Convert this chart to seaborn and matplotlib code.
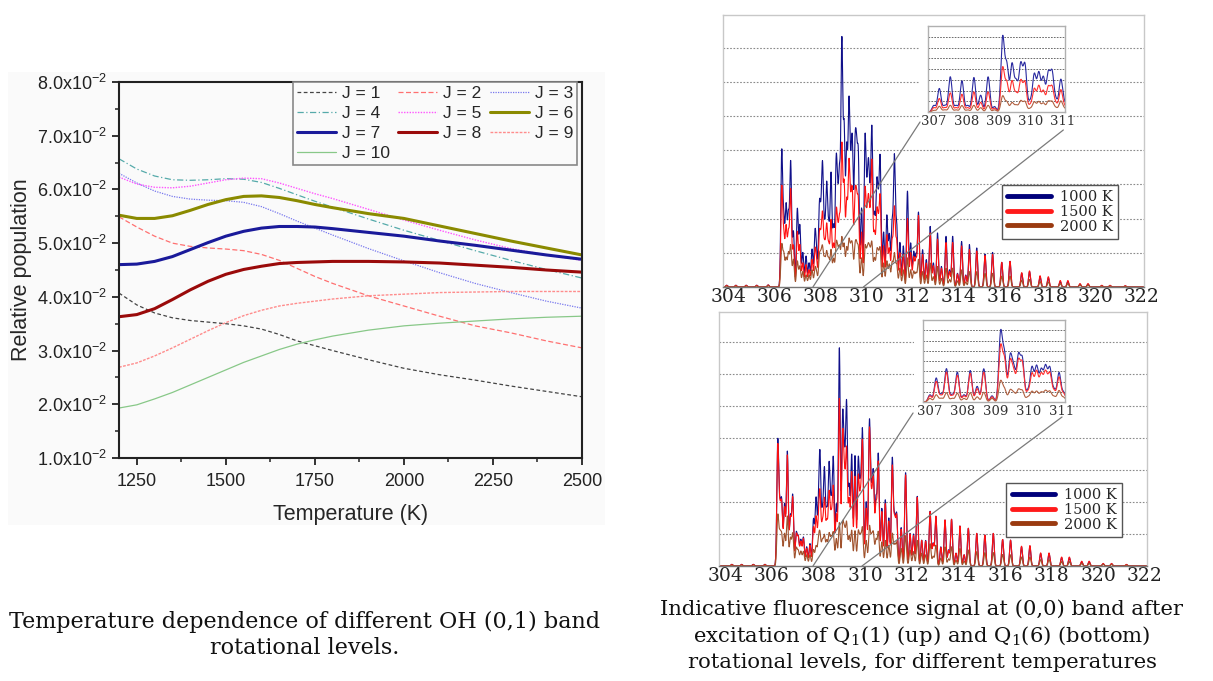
import numpy as np
import matplotlib
matplotlib.use("Agg")
import matplotlib.pyplot as plt
import seaborn as sns
from matplotlib.patches import Rectangle, ConnectionPatch
from matplotlib.lines import Line2D
from matplotlib.ticker import MultipleLocator, FixedLocator, FuncFormatter

# ---------------- data: left chart ----------------
temperature_K = [1200, 1250, 1300, 1350, 1400, 1450, 1500, 1550, 1600, 1650, 1700, 1750, 1800,
                 1900, 2000, 2100, 2200, 2300, 2400, 2500]
pop_J1 = [0.0407, 0.0385, 0.0370, 0.0361, 0.0356, 0.0353, 0.0350, 0.0346, 0.0340, 0.0330, 0.0318, 0.0309, 0.0300,
          0.0283, 0.0267, 0.0255, 0.0245, 0.0234, 0.0224, 0.0214]
pop_J2 = [0.0549, 0.0530, 0.0513, 0.0500, 0.0494, 0.0491, 0.0489, 0.0486, 0.0479, 0.0468, 0.0453, 0.0438, 0.0425,
          0.0402, 0.0383, 0.0364, 0.0346, 0.0333, 0.0318, 0.0305]
pop_J3 = [0.0630, 0.0612, 0.0597, 0.0587, 0.0582, 0.0580, 0.0579, 0.0576, 0.0568, 0.0555, 0.0541, 0.0528, 0.0515,
          0.0490, 0.0467, 0.0445, 0.0425, 0.0408, 0.0392, 0.0379]
pop_J4 = [0.0657, 0.0638, 0.0625, 0.0618, 0.0617, 0.0618, 0.0620, 0.0619, 0.0613, 0.0602, 0.0590, 0.0578, 0.0567,
          0.0545, 0.0524, 0.0505, 0.0486, 0.0468, 0.0451, 0.0435]
pop_J5 = [0.0623, 0.0610, 0.0604, 0.0603, 0.0606, 0.0612, 0.0618, 0.0621, 0.0620, 0.0612, 0.0602, 0.0592, 0.0583,
          0.0563, 0.0543, 0.0524, 0.0506, 0.0490, 0.0478, 0.0468]
pop_J6 = [0.0552, 0.0546, 0.0546, 0.0551, 0.0561, 0.0572, 0.0581, 0.0587, 0.0588, 0.0585, 0.0579, 0.0572, 0.0566,
          0.0555, 0.0546, 0.0532, 0.0518, 0.0504, 0.0491, 0.0478]
pop_J7 = [0.0460, 0.0461, 0.0466, 0.0475, 0.0488, 0.0501, 0.0513, 0.0522, 0.0528, 0.0531, 0.0531, 0.0530, 0.0527,
          0.0520, 0.0513, 0.0504, 0.0496, 0.0487, 0.0478, 0.0470]
pop_J8 = [0.0363, 0.0367, 0.0378, 0.0395, 0.0413, 0.0429, 0.0442, 0.0451, 0.0457, 0.0462, 0.0464, 0.0465, 0.0466,
          0.0466, 0.0465, 0.0463, 0.0459, 0.0455, 0.0450, 0.0446]
pop_J9 = [0.0269, 0.0277, 0.0290, 0.0305, 0.0321, 0.0337, 0.0352, 0.0365, 0.0375, 0.0383, 0.0388, 0.0392, 0.0396,
          0.0402, 0.0405, 0.0408, 0.0409, 0.0410, 0.0410, 0.0410]
pop_J10 = [0.0193, 0.0199, 0.0210, 0.0222, 0.0236, 0.0250, 0.0264, 0.0278, 0.0290, 0.0302, 0.0312, 0.0320, 0.0327,
           0.0338, 0.0346, 0.0351, 0.0355, 0.0359, 0.0362, 0.0364]
level_labels = ["J = 1", "J = 2", "J = 3", "J = 4", "J = 5", "J = 6", "J = 7", "J = 8", "J = 9", "J = 10"]

# ---------------- data: spectra (line positions nm, peak heights) ----------------
top_lines_nm = [303.90, 304.30, 304.75, 305.21, 305.71, 306.30, 306.49, 306.69, 306.98, 307.09,
                307.36, 307.75, 307.82, 307.94, 308.08, 308.26, 308.45, 308.67, 308.82, 308.92,
                309.02, 309.13, 309.23, 309.38, 309.49, 309.56, 309.64, 309.93, 310.08, 310.23,
                310.44, 310.59, 310.88, 311.21, 311.31, 311.78, 311.92, 312.26, 312.44, 312.77,
                313.09, 313.46, 313.75, 314.14, 314.48, 314.80, 315.16, 315.49, 315.89, 316.25,
                316.76, 317.10, 317.56, 317.92, 318.44, 318.77, 319.30, 319.65, 320.25, 320.61,
                321.27,
                306.39, 306.59, 306.81, 307.22, 307.49, 307.62, 308.01, 308.17, 308.35, 308.56,
                308.74, 309.31, 309.78, 310.01, 310.15, 310.34, 310.51, 310.74, 310.99, 311.11,
                311.45, 311.60, 312.05, 312.15, 312.60, 312.91, 313.26, 313.61, 313.96, 314.32]
top_1000K = [0.05, 0.05, 0.05, 0.05, 0.06, 3.88, 2.30, 3.59, 2.26, 1.77,
             0.90, 1.50, 0.80, 2.17, 3.25, 2.85, 3.25, 3.34, 3.05, 6.99,
             4.47, 3.90, 5.06, 3.74, 3.49, 3.25, 3.54, 4.18, 2.95, 4.42,
             2.66, 3.59, 2.07, 3.74, 1.77, 2.80, 1.28, 2.17, 1.09, 1.77,
             1.58, 1.48, 1.48, 1.33, 1.24, 1.14, 0.96, 1.01, 0.72, 0.75,
             0.40, 0.45, 0.30, 0.27, 0.16, 0.16, 0.08, 0.08, 0.04, 0.04,
             0.03,
             1.80, 2.00, 1.60, 1.00, 0.70, 1.10, 1.40, 1.50, 1.60, 1.70,
             2.00, 2.50, 2.30, 2.00, 1.80, 2.00, 1.80, 1.60, 1.50, 1.80,
             1.30, 1.20, 1.00, 0.90, 0.80, 0.70, 0.60, 0.50, 0.40, 0.35]
top_1500K = [0.05, 0.05, 0.05, 0.05, 0.06, 2.85, 1.70, 2.80, 1.60, 1.20,
             0.65, 1.00, 0.60, 1.40, 1.90, 1.70, 1.90, 1.95, 1.80, 4.03,
             2.90, 2.40, 3.40, 2.40, 2.20, 2.10, 2.30, 2.70, 2.10, 3.50,
             1.90, 2.50, 1.50, 2.26, 1.30, 2.00, 1.00, 2.07, 0.95, 1.58,
             1.40, 1.30, 1.30, 1.20, 1.10, 1.05, 0.92, 0.95, 0.72, 0.75,
             0.42, 0.47, 0.33, 0.30, 0.19, 0.19, 0.10, 0.10, 0.05, 0.05,
             0.04,
             1.40, 1.50, 1.20, 0.70, 0.50, 0.80, 1.00, 1.10, 1.10, 1.20,
             1.30, 1.80, 1.60, 1.50, 1.40, 1.50, 1.40, 1.20, 1.10, 1.30,
             1.00, 0.95, 0.85, 0.80, 0.70, 0.62, 0.55, 0.45, 0.38, 0.33]
top_2000K = [0.03, 0.03, 0.03, 0.03, 0.04, 1.19, 0.80, 1.19, 0.75, 0.60,
             0.35, 0.50, 0.35, 0.80, 1.00, 0.95, 1.05, 1.10, 1.05, 1.38,
             1.20, 1.10, 1.25, 1.05, 1.00, 1.00, 1.05, 1.10, 0.95, 1.20,
             0.90, 1.05, 0.75, 0.95, 0.65, 0.85, 0.50, 0.80, 0.45, 0.70,
             0.60, 0.55, 0.55, 0.50, 0.45, 0.45, 0.40, 0.40, 0.32, 0.32,
             0.20, 0.22, 0.16, 0.15, 0.10, 0.10, 0.06, 0.06, 0.03, 0.03,
             0.02,
             0.90, 0.95, 0.80, 0.45, 0.35, 0.50, 0.70, 0.75, 0.75, 0.80,
             0.85, 0.90, 0.85, 0.80, 0.80, 0.80, 0.75, 0.70, 0.65, 0.70,
             0.55, 0.50, 0.45, 0.40, 0.35, 0.30, 0.25, 0.22, 0.18, 0.15]

bottom_lines_nm = [304.29, 304.71, 305.21, 305.71, 306.26, 306.43, 306.67, 306.90, 307.14, 307.36,
                   307.64, 307.79, 307.90, 308.07, 308.26, 308.46, 308.64, 308.90, 309.04, 309.21,
                   309.43, 309.57, 309.71, 309.89, 310.19, 310.36, 310.57, 310.87, 311.17, 311.36,
                   311.74, 311.93, 312.24, 312.43, 312.79, 313.04, 313.43, 313.71, 314.07, 314.43,
                   314.79, 315.14, 315.50, 315.90, 316.24, 316.71, 317.07, 317.53, 317.89, 318.43,
                   318.76, 319.29, 319.61, 320.21, 320.57, 321.21,
                   306.35, 306.55, 306.80, 307.05, 307.25, 307.50, 308.00, 308.17, 308.36, 308.55,
                   308.77, 309.12, 309.32, 309.80, 310.05, 310.28, 310.47, 310.72, 311.02, 311.27,
                   311.55, 312.08, 312.60, 312.92, 313.25, 313.58, 313.90, 314.25]
bottom_1000K = [0.05, 0.05, 0.05, 0.05, 3.86, 1.86, 3.57, 2.18, 0.86, 0.89,
                0.70, 1.44, 2.07, 3.25, 2.92, 3.07, 3.28, 6.81, 4.44, 4.92,
                3.44, 3.44, 3.23, 4.13, 4.44, 2.70, 3.44, 2.07, 3.34, 1.55,
                2.92, 1.02, 2.18, 0.81, 1.71, 1.55, 1.44, 1.46, 1.25, 1.18,
                1.02, 0.97, 1.02, 0.83, 0.81, 0.60, 0.62, 0.39, 0.39, 0.26,
                0.26, 0.13, 0.13, 0.07, 0.07, 0.04,
                1.60, 1.90, 1.50, 1.00, 0.80, 0.60, 1.40, 1.50, 1.60, 1.70,
                1.90, 2.80, 2.40, 2.20, 2.00, 1.90, 2.00, 1.80, 1.50, 1.40,
                1.20, 1.00, 0.80, 0.70, 0.60, 0.50, 0.40, 0.35]
bottom_1500K = [0.05, 0.05, 0.05, 0.05, 3.70, 1.80, 3.45, 2.10, 0.85, 0.85,
                0.65, 1.20, 1.50, 2.10, 2.00, 2.20, 2.40, 5.23, 3.90, 3.50,
                2.90, 2.80, 2.70, 3.80, 4.20, 2.50, 3.20, 1.95, 3.10, 1.50,
                2.85, 1.00, 2.15, 0.80, 1.70, 1.55, 1.44, 1.46, 1.25, 1.18,
                1.02, 0.97, 1.02, 0.83, 0.81, 0.62, 0.64, 0.41, 0.41, 0.28,
                0.28, 0.15, 0.15, 0.08, 0.08, 0.05,
                1.55, 1.80, 1.45, 0.95, 0.75, 0.55, 1.10, 1.20, 1.30, 1.40,
                1.60, 2.40, 2.00, 1.90, 1.80, 1.75, 1.85, 1.70, 1.40, 1.35,
                1.15, 0.95, 0.78, 0.68, 0.58, 0.48, 0.40, 0.35]
bottom_2000K = [0.03, 0.03, 0.03, 0.03, 1.55, 0.90, 1.55, 1.00, 0.45, 0.45,
                0.35, 0.50, 0.60, 0.90, 0.90, 0.95, 1.00, 1.35, 1.25, 1.30,
                1.10, 1.10, 1.05, 1.15, 1.20, 0.95, 1.05, 0.80, 1.00, 0.70,
                0.95, 0.50, 0.80, 0.40, 0.70, 0.65, 0.60, 0.60, 0.55, 0.50,
                0.45, 0.42, 0.42, 0.36, 0.35, 0.28, 0.28, 0.20, 0.20, 0.14,
                0.14, 0.08, 0.08, 0.05, 0.05, 0.03,
                0.90, 1.00, 0.85, 0.55, 0.45, 0.35, 0.70, 0.75, 0.75, 0.80,
                0.85, 1.00, 0.90, 0.85, 0.80, 0.80, 0.80, 0.75, 0.65, 0.60,
                0.55, 0.45, 0.35, 0.30, 0.25, 0.22, 0.18, 0.15]

inset_top_lines_nm = [307.17, 307.51, 307.87, 308.24, 308.45, 308.68, 309.13, 309.26, 309.42, 309.55,
                      309.69, 309.82, 310.11, 310.25, 310.39, 310.54, 310.66, 310.93,
                      307.00, 307.34, 307.69, 308.05, 308.88, 309.98, 310.78, 311.05]
inset_top_1000K = [2.18, 3.27, 2.90, 3.21, 1.56, 3.27, 6.85, 4.20, 4.36, 2.65,
                   4.30, 4.30, 3.43, 3.52, 3.12, 3.43, 3.52, 2.96,
                   0.60, 0.60, 0.60, 0.60, 0.50, 0.90, 1.00, 0.80]
inset_top_1500K = [1.25, 1.78, 1.65, 1.87, 0.90, 1.87, 4.05, 2.60, 2.80, 1.60,
                   2.80, 2.70, 2.09, 2.34, 1.90, 2.18, 2.20, 2.02,
                   0.40, 0.40, 0.40, 0.40, 0.35, 0.60, 0.70, 0.50]
inset_top_2000K = [0.53, 0.62, 0.60, 0.62, 0.40, 0.62, 1.46, 0.90, 0.84, 0.60,
                   1.00, 0.95, 0.90, 0.93, 0.80, 0.93, 0.90, 1.00,
                   0.15, 0.20, 0.20, 0.20, 0.20, 0.30, 0.35, 0.30]

inset_bottom_lines_nm = [307.19, 307.50, 307.83, 308.22, 308.43, 308.63, 309.14, 309.26, 309.43, 309.54,
                         309.68, 309.80, 310.09, 310.23, 310.37, 310.50, 310.63, 310.91,
                         307.00, 307.34, 307.67, 308.03, 308.88, 309.96, 310.76, 311.05]
inset_bottom_1000K = [2.33, 3.24, 2.91, 3.07, 1.52, 3.24, 6.60, 4.40, 4.27, 2.98,
                      4.30, 4.00, 3.30, 3.37, 2.98, 3.30, 3.20, 2.82,
                      0.70, 0.70, 0.70, 0.70, 0.60, 1.00, 1.10, 0.90]
inset_bottom_1500K = [2.00, 2.90, 2.60, 2.80, 1.30, 2.90, 5.24, 3.90, 3.80, 2.60,
                      3.80, 3.60, 2.70, 2.90, 2.60, 2.80, 2.70, 2.40,
                      0.60, 0.60, 0.60, 0.60, 0.50, 0.90, 1.00, 0.80]
inset_bottom_2000K = [0.70, 0.90, 0.85, 0.90, 0.50, 0.95, 2.00, 1.20, 1.10, 0.80,
                      1.15, 1.05, 1.00, 1.00, 0.90, 1.05, 1.00, 1.10,
                      0.35, 0.35, 0.35, 0.35, 0.35, 0.45, 0.50, 0.45]

temp_labels = ["1000 K", "1500 K", "2000 K"]
spectral_ticks = [304, 306, 308, 310, 312, 314, 316, 318, 320, 322]
inset_ticks = [307, 308, 309, 310, 311]

# ---------------- style ----------------
sns.set_theme(style="white")
plt.rcParams["font.family"] = ["Liberation Sans", "DejaVu Sans"]
plt.rcParams["mathtext.default"] = "regular"
SERIF = ["DejaVu Serif"]

W, H = 1213, 681
fig = plt.figure(figsize=(W / 100, H / 100), dpi=100)
fig.patch.set_facecolor("white")


def fbox(x0, y0, x1, y1):
    """pixel box (top-left origin) -> figure fraction rect"""
    return [x0 / W, 1 - y1 / H, (x1 - x0) / W, (y1 - y0) / H]


# off-white backdrop of the left image
r = fbox(8, 72, 605, 525)
fig.add_artist(Rectangle((r[0], r[1]), r[2], r[3], transform=fig.transFigure,
                         facecolor="#fafafa", edgecolor="none", zorder=0))

# ---------------- left chart ----------------
ax = fig.add_axes(fbox(119, 82, 582, 458))
ax.set_facecolor("none")
ax.set_zorder(1)
series = [pop_J1, pop_J2, pop_J3, pop_J4, pop_J5, pop_J6, pop_J7, pop_J8, pop_J9, pop_J10]
colors = ["#444444", "#ff7070", "#7777ee", "#55aaaa", "#ff55ff", "#8a8a00", "#1a1a9a", "#9a0a0a", "#ff8c8c", "#88c888"]
styles = [(0, (3, 2)), (0, (4, 2)), (0, (1, 1)), (0, (5, 2, 1, 2)), (0, (1, 1)),
          "-", "-", "-", (0, (2, 1)), "-"]
widths = [0.9, 0.9, 0.9, 0.9, 1.0, 2.2, 2.2, 2.2, 1.0, 0.9]
for vals, c, ls, lw, lab in zip(series, colors, styles, widths, level_labels):
    sns.lineplot(x=temperature_K, y=vals, ax=ax, color=c, linestyle=ls, linewidth=lw, label=lab)

ax.set_xlim(1200, 2500)
ax.set_ylim(0.01, 0.08)
ax.xaxis.set_major_locator(FixedLocator([1250, 1500, 1750, 2000, 2250, 2500]))
ax.xaxis.set_minor_locator(FixedLocator([1375, 1625, 1875, 2125, 2375]))
ax.yaxis.set_major_locator(MultipleLocator(0.01))
ax.yaxis.set_minor_locator(MultipleLocator(0.005))
ax.yaxis.set_major_formatter(FuncFormatter(lambda v, p: f"{v * 100:.1f}x10$^{{-2}}$"))
ax.tick_params(which="both", direction="out", bottom=True, left=True, top=False, right=False,
               colors="#222222", labelsize=13)
ax.tick_params(which="major", length=5, width=1.3)
ax.tick_params(which="minor", length=3, width=1.1)
ax.tick_params(axis="x", pad=6)
for s in ax.spines.values():
    s.set_color("#222222")
    s.set_linewidth(1.5)
ax.set_xlabel("Temperature (K)", fontsize=15.5, labelpad=10)
ax.set_ylabel("Relative population", fontsize=15.5, labelpad=4)

h, l = ax.get_legend_handles_labels()
order = [0, 3, 6, 9, 1, 4, 7, 2, 5, 8]
leg = ax.legend([h[i] for i in order], [l[i] for i in order], ncol=3, loc="upper right",
                bbox_to_anchor=(0.99, 1.0), borderaxespad=0, frameon=True, fancybox=False,
                edgecolor="#888888", fontsize=12.5, handlelength=2.25, columnspacing=0.45,
                labelspacing=0.27, borderpad=0.25, handletextpad=0.35, framealpha=1)
leg.get_frame().set_linewidth(1.2)
leg.get_frame().set_facecolor("#fafafa")


# ---------------- spectra ----------------
def spectrum(grid, lines, heights, sigma):
    lines = np.asarray(lines)[:, None]
    heights = np.asarray(heights)[:, None]
    return (heights * np.exp(-0.5 * ((grid[None, :] - lines) / sigma) ** 2)).sum(axis=0)


spec_colors = ["#10108a", "#ff1010", "#a0522d"]
legend_colors = ["#00007a", "#ff1a1a", "#9a3a10"]


def draw_main(box, lines, h1, h2, h3, leg_anchor):
    a = fig.add_axes(fbox(*box))
    a.set_zorder(1)
    grid = np.linspace(303.74, 322.09, 7000)
    for hh, c in zip([h1, h2, h3], spec_colors):
        sns.lineplot(x=grid, y=spectrum(grid, lines, hh, 0.04), ax=a, color=c, linewidth=0.8,
                     estimator=None, sort=False, legend=False)
    a.set_xlim(303.74, 322.09)
    a.set_ylim(0, 7.95)
    a.set_xticks(spectral_ticks)
    a.set_xticklabels([str(t) for t in spectral_ticks], family=SERIF, fontsize=13.5)
    a.set_yticks(range(1, 8))
    a.set_yticklabels([])
    a.tick_params(length=0, pad=1, colors="#222222")
    a.grid(axis="y", linestyle=(0, (1.5, 1.5)), color="#8a8a8a", linewidth=0.8)
    a.grid(axis="x", visible=False)
    a.set_xlabel("")
    a.set_ylabel("")
    for k, s in a.spines.items():
        s.set_color("#c8c8c8")
        s.set_linewidth(1.0)
    a.spines["bottom"].set_color("#777777")
    handles = [Line2D([], [], color=c, linewidth=3.5) for c in legend_colors]
    lg = a.legend(handles, temp_labels, loc="upper right", bbox_to_anchor=leg_anchor,
                  frameon=True, fancybox=False, edgecolor="#555555", framealpha=1,
                  prop={"family": SERIF, "size": 10.5}, handlelength=3.0, labelspacing=0.05,
                  borderpad=0.35, handletextpad=0.6, borderaxespad=0)
    lg.get_frame().set_linewidth(1.0)
    return a


def draw_inset(box, lines, h1, h2, h3, xlim):
    a = fig.add_axes(fbox(*box))
    a.set_zorder(3)
    a.set_facecolor("white")
    grid = np.linspace(xlim[0], xlim[1], 1500)
    for hh, c in zip([h1, h2, h3], ["#2a2aa0", "#ff3030", "#b06040"]):
        sns.lineplot(x=grid, y=spectrum(grid, lines, hh, 0.055), ax=a, color=c, linewidth=0.8,
                     estimator=None, sort=False, legend=False)
    a.set_xlim(*xlim)
    a.set_ylim(0, 8)
    a.set_xticks(inset_ticks)
    a.set_xticklabels([str(t) for t in inset_ticks], family=SERIF, fontsize=9.5)
    a.set_yticks(range(1, 8))
    a.set_yticklabels([])
    a.tick_params(length=0, pad=2, colors="#333333")
    a.grid(axis="y", linestyle=(0, (2, 1.5)), color="#555555", linewidth=0.6)
    a.grid(axis="x", visible=False)
    a.set_xlabel("")
    a.set_ylabel("")
    for s in a.spines.values():
        s.set_color("#b0b0b0")
        s.set_linewidth(1.0)
    return a


def white_gap(x0, y0, x1, y1):
    rr = fbox(x0, y0, x1, y1)
    fig.add_artist(Rectangle((rr[0], rr[1]), rr[2], rr[3], transform=fig.transFigure,
                             facecolor="white", edgecolor="none", zorder=2))


def connector(ins, main, xyA, xB):
    cp = ConnectionPatch(xyA=xyA, coordsA=ins.transAxes, xyB=(xB, 0), coordsB=main.transData,
                         color="#7a7a7a", linewidth=0.9, zorder=4)
    fig.add_artist(cp)


top = draw_main((723, 15, 1144, 287), top_lines_nm, top_1000K, top_1500K, top_2000K, (0.938, 0.375))
white_gap(919, 20, 1068, 127)
top_in = draw_inset((928, 26, 1065, 112), inset_top_lines_nm, inset_top_1000K, inset_top_1500K,
                    inset_top_2000K, (306.82, 311.06))
connector(top_in, top, (-0.058, -0.116), 307.66)
connector(top_in, top, (0.988, -0.209), 309.86)

bot = draw_main((719, 312, 1147, 566), bottom_lines_nm, bottom_1000K, bottom_1500K, bottom_2000K, (0.942, 0.327))
white_gap(914, 315, 1069, 418)
bot_in = draw_inset((923, 320, 1065, 402), inset_bottom_lines_nm, inset_bottom_1000K, inset_bottom_1500K,
                    inset_bottom_2000K, (306.79, 311.09))
connector(bot_in, bot, (-0.070, -0.134), 307.77)
connector(bot_in, bot, (0.979, -0.183), 309.87)

# ---------------- captions ----------------
cap_kw = dict(ha="center", va="center", family=SERIF, color="#111111")
fig.text(305 / W, 1 - 622 / H, "Temperature dependence of different OH (0,1) band", fontsize=16, **cap_kw)
fig.text(305 / W, 1 - 648 / H, "rotational levels.", fontsize=16, **cap_kw)
fig.text(922 / W, 1 - 609 / H, "Indicative fluorescence signal at (0,0) band after", fontsize=15.2, **cap_kw)
fig.text(922 / W, 1 - 636 / H, "excitation of Q$_1$(1) (up) and Q$_1$(6) (bottom)", fontsize=15.2, **cap_kw)
fig.text(922 / W, 1 - 663 / H, "rotational levels, for different temperatures", fontsize=15.2, **cap_kw)

fig.savefig("out.png", dpi=100)
